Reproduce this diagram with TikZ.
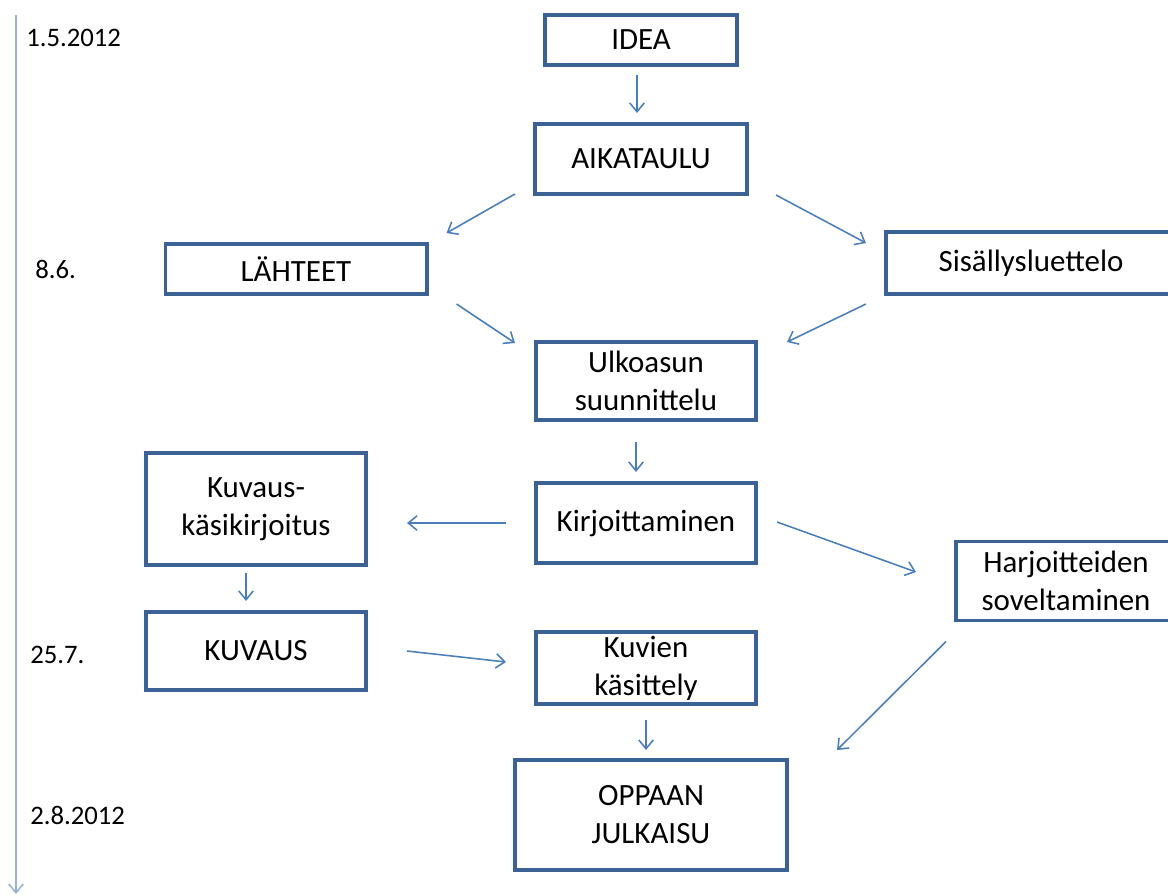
\documentclass[tikz,border=0pt]{standalone}
\usepackage{fontspec}
\setmainfont{Carlito}
\usepackage{tikz}
\usetikzlibrary{calc,arrows.meta,positioning}

\definecolor{boxblue}{HTML}{3B6195}
\definecolor{flowblue}{HTML}{4A7EBB}
\definecolor{lineblue}{HTML}{95B3D7}

\begin{document}
\begin{tikzpicture}[x=0.025cm, y=-0.025cm,
    >={Straight Barb[length=0.22cm,width=0.36cm,line width=1.1pt]},
    box/.style={draw=boxblue, line width=2.8pt, rectangle, inner sep=0pt, outer sep=0pt,
        align=center, font=\fontsize{22}{27}\selectfont},
    flow/.style={->, color=flowblue, line width=1.1pt},
    timeline/.style={->, draw=lineblue, line width=1.6pt},
    datelabel/.style={anchor=west, inner sep=0pt, font=\fontsize{19}{23}\selectfont}]
   \useasboundingbox (0,0) rectangle (1168,895);
   \clip (0,0) rectangle (1168,895);

   % time axis
   \coordinate (tltop) at (16,15);
   \coordinate (tlend) at (16,894);
   \draw[timeline] (tltop) -- (tlend);
   \node[datelabel] (d1) at (26,38) {1.5.2012};
   \node[datelabel] (d2) at (35,269) {8.6.};
   \node[datelabel] (d3) at (30,655) {25.7.};
   \node[datelabel] (d4) at (30,815) {2.8.2012};

   % boxes
   \node[box, minimum width=4.8cm, minimum height=1.25cm] (idea) at (641,40) {IDEA};
   \node[box, minimum width=5.3cm, minimum height=1.75cm] (aika) at (641,159) {AIKATAULU};
   \node[box, minimum width=6.525cm, minimum height=1.25cm] (lah) at (296,269) {LÄHTEET};
   \node[box, minimum width=7.25cm, minimum height=1.55cm] (sis) at (1031,263) {Sisällysluettelo};
   \node[box, minimum width=5.5cm, minimum height=1.95cm] (ulko) at (646,381) {Ulkoasun\\suunnittelu};
   \node[box, minimum width=5.5cm, minimum height=2.8cm] (kuvk) at (256,509) {Kuvaus-\\käsikirjoitus};
   \node[box, minimum width=5.5cm, minimum height=2.0cm] (kirj) at (646,523) {Kirjoittaminen};
   \node[box, minimum width=5.5cm, minimum height=1.975cm] (harj) at (1066,581) {Harjoitteiden\\soveltaminen};
   \node[box, minimum width=5.5cm, minimum height=1.95cm] (kuvaus) at (256,651) {KUVAUS};
   \node[box, minimum width=5.5cm, minimum height=1.8cm] (kuvien) at (646,668) {Kuvien\\käsittely};
   \node[box, minimum width=6.8cm, minimum height=2.75cm] (opp) at (651,815) {OPPAAN\\JULKAISU};

   % connectors
   \path[flow]
    ([shift={(-4,10)}]idea.south) edge ([shift={(-4,-11)}]aika.north)
    ([shift={(-20,0)}]aika.south west) edge ([shift={(20,-11)}]lah.north east)
    ([shift={(29,1)}]aika.south east) edge ([shift={(-20,11)}]sis.north west)
    ([shift={(30,10)}]lah.south east) edge ([shift={(-21,1)}]ulko.north west)
    ([shift={(-20,10)}]sis.south west) edge ([shift={(31,0)}]ulko.north east)
    ([shift={(-10,22)}]ulko.south) edge ([shift={(-10,-11)}]kirj.north)
    ([shift={(-30,0)}]kirj.west) edge ([shift={(41,14)}]kuvk.east)
    ([shift={(21,-1)}]kirj.east) edge ([shift={(-40,-9)}]harj.west)
    ([shift={(-10,8)}]kuvk.south) edge ([shift={(-10,-11)}]kuvaus.north)
    ([shift={(41,0)}]kuvaus.east) edge ([shift={(-30,-6)}]kuvien.west)
    ([shift={(-10,21)}]harj.south west) edge ([shift={(50,-10)}]opp.north east)
    ([shift={(0,16)}]kuvien.south) edge ([shift={(-5,-10)}]opp.north);
\end{tikzpicture}
\end{document}
